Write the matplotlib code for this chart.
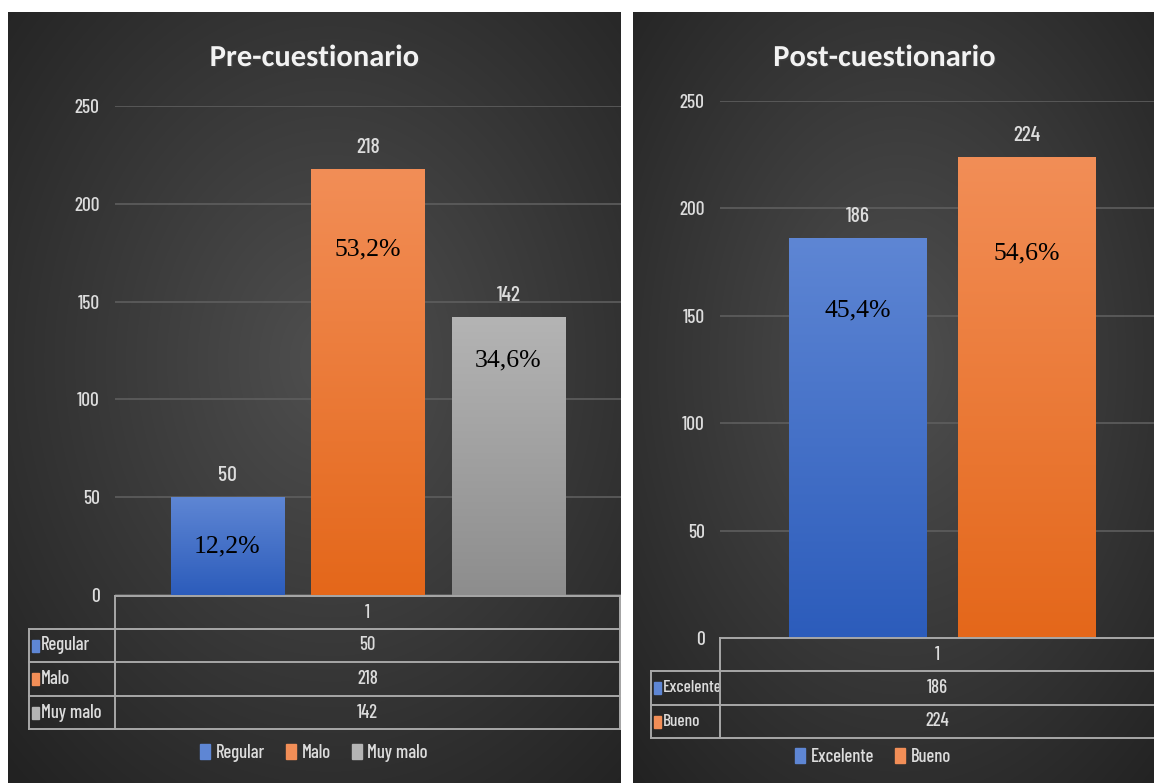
import matplotlib
matplotlib.use("Agg")
import matplotlib.pyplot as plt
import numpy as np
from matplotlib.lines import Line2D
from matplotlib.patches import Rectangle
import matplotlib.patheffects as pe

W, H = 1154, 783

# data
category = "1"
y_ticks = [0, 50, 100, 150, 200, 250]

pre_title = "Pre-cuestionario"
pre_labels = ["Regular", "Malo", "Muy malo"]
pre_values = [50, 218, 142]
pre_pcts = ["12,2%", "53,2%", "34,6%"]

post_title = "Post-cuestionario"
post_labels = ["Excelente", "Bueno"]
post_values = [186, 224]
post_pcts = ["45,4%", "54,6%"]

SANS = ["Barlow Condensed", "DejaVu Sans"]
TITLE = ["Carlito", "DejaVu Sans"]
SERIF = ["Liberation Serif", "DejaVu Serif"]
TXT = "#dcdcdc"
GRID = "#5e5e5e"
TABLE_LINE = "#a8a8a8"

# (top colour, bottom colour) for each series
GRADS = {
    "blue": ("#5e86d4", "#2c5cbb"),
    "orange": ("#f28e57", "#e4671a"),
    "gray": ("#b4b4b4", "#8d8d8d"),
}

fig = plt.figure(figsize=(W / 100, H / 100), dpi=100)
fig.patch.set_facecolor("white")


def rect(x0, y0, x1, y1):
    return [x0 / W, 1 - y1 / H, (x1 - x0) / W, (y1 - y0) / H]


def hline(x0, x1, y, **kw):
    fig.add_artist(Line2D([x0 / W, x1 / W], [1 - y / H, 1 - y / H],
                          transform=fig.transFigure, **kw))


def vline(x, y0, y1, **kw):
    fig.add_artist(Line2D([x / W, x / W], [1 - y0 / H, 1 - y1 / H],
                          transform=fig.transFigure, **kw))


def ftext(x, y, s, **kw):
    return fig.text(x / W, 1 - y / H, s, **kw)


def hex2rgb(c):
    return np.array(matplotlib.colors.to_rgb(c))


def background(box, centre):
    # dark radial gradient like the Excel chart style
    x0, y0, x1, y1 = box
    bg = fig.add_axes(rect(*box), zorder=0)
    gx, gy = np.meshgrid(np.arange(x0, x1), np.arange(y0, y1))
    d = np.hypot((gx - centre[0]) / (x1 - x0), (gy - centre[1]) / (y1 - y0))
    d = np.clip(d / 0.75, 0, 1)
    inner, outer = hex2rgb("#4f4f4f"), hex2rgb("#222222")
    img = inner[None, None, :] * (1 - d[..., None]) + outer[None, None, :] * d[..., None]
    bg.imshow(img, aspect="auto", extent=(0, 1, 0, 1))
    bg.set_axis_off()


def draw_panel(g, title, labels, values, pcts, colors, pct_pos):
    background(g["panel"], g["centre"])
    ftext(g["title_x"], 58, title, ha="center", va="center", fontsize=22,
          fontweight="bold", color="#f2f2f2", family=TITLE,
          path_effects=[pe.withSimplePatchShadow(offset=(1, -1), alpha=0.5)])

    ax = fig.add_axes(rect(g["ax_x0"], g["y250"], g["ax_x1"], g["y0"]), zorder=2)
    ax.patch.set_alpha(0)
    x = np.arange(len(values))
    bars = ax.bar(x, values, width=0.81, zorder=3)
    for b, c, v, p, f in zip(bars, colors, values, pcts, pct_pos):
        top, bot = GRADS[c]
        b.set_facecolor(bot)
        t = np.linspace(0, 1, 256)[:, None]
        col = hex2rgb(top)[None, :] * (1 - t) + hex2rgb(bot)[None, :] * t
        im = ax.imshow(col[:, None, :], aspect="auto", zorder=4,
                       extent=(b.get_x(), b.get_x() + b.get_width(), 0, b.get_height()))
        im.set_clip_path(b)
        ax.annotate(str(v), (b.get_x() + b.get_width() / 2, v), xytext=(0, 15.5),
                    textcoords="offset points", ha="center", va="center",
                    fontsize=15.5, fontweight=500, color=TXT, family=SANS)
        ax.text(b.get_x() + b.get_width() / 2, v * f, p, ha="center", va="center",
                fontsize=18.5, color="black", family=SERIF, zorder=5)

    ax.set_xlim(*g["xlim"])
    ax.set_ylim(0, 250)
    ax.set_yticks(y_ticks)
    ax.set_xticks([])
    ax.grid(axis="y", color=GRID, lw=1.2, zorder=1)
    ax.tick_params(axis="y", length=0, pad=11, labelsize=14, labelcolor=TXT)
    for lab in ax.get_yticklabels():
        lab.set_family(SANS)
        lab.set_fontweight(500)
    for s in ax.spines.values():
        s.set_visible(False)

    # data table under the axis
    xl0, xc0, xc1 = g["tab_x"]
    rows = g["rows"]
    fs = g["tab_fs"]
    kw = dict(color=TABLE_LINE, lw=1.4, zorder=5)
    hline(xc0, xc1, rows[0], **kw)
    for yy in rows[1:]:
        hline(xl0, xc1, yy, **kw)
    vline(xc0, rows[0], rows[-1], **kw)
    vline(xl0, rows[1], rows[-1], **kw)
    if g["right_edge"]:
        vline(xc1, rows[0], rows[-1], **kw)
    cx = (xc0 + xc1) / 2
    ftext(cx, (rows[0] + rows[1]) / 2, category, ha="center", va="center",
          fontsize=13.5, fontweight=500, color=TXT, family=SANS)
    for i, (lab, v, c) in enumerate(zip(labels, values, colors)):
        ym = (rows[i + 1] + rows[i + 2]) / 2
        sw = Rectangle(((xl0 + 3) / W, 1 - (ym + 6) / H), 7 / W, 12 / H,
                       transform=fig.transFigure, color=GRADS[c][0], zorder=6)
        fig.add_artist(sw)
        ftext(xl0 + 12, ym, lab, ha="left", va="center", fontsize=fs,
              fontweight=500, color=TXT, family=SANS)
        ftext(cx, ym, str(v), ha="center", va="center", fontsize=13.5,
              fontweight=500, color=TXT, family=SANS)

    handles = [Rectangle((0, 0), 1, 1, color=GRADS[c][0]) for c in colors]
    fig.legend(handles, labels, loc="center", ncol=len(labels), frameon=False,
               bbox_to_anchor=(g["leg_x"] / W, 1 - g["leg_y"] / H),
               handlelength=0.55, handleheight=0.9, handletextpad=0.3,
               columnspacing=1.1, labelcolor=TXT,
               prop={"family": SANS, "size": 13.5, "weight": 500})


left = dict(panel=(8, 12, 621, 783), centre=(330, 360), title_x=314,
            ax_x0=115, ax_x1=621, y250=106, y0=595, xlim=(-0.80, 2.80),
            tab_x=(29, 115, 620), rows=[596, 629, 662, 696, 729], tab_fs=13.5,
            right_edge=True, leg_x=314, leg_y=753)
right = dict(panel=(633, 12, 1154, 783), centre=(900, 360), title_x=884,
             ax_x0=720, ax_x1=1154, y250=101, y0=638, xlim=(-0.81, 1.75),
             tab_x=(651, 720, 1154), rows=[638, 671, 705, 738], tab_fs=12.5,
             right_edge=False, leg_x=873, leg_y=757)

draw_panel(left, pre_title, pre_labels, pre_values, pre_pcts,
           ["blue", "orange", "gray"], [0.5, 0.81, 0.845])
draw_panel(right, post_title, post_labels, post_values, post_pcts,
           ["blue", "orange"], [0.82, 0.80])

fig.savefig("out.png", dpi=100, facecolor=fig.get_facecolor())
